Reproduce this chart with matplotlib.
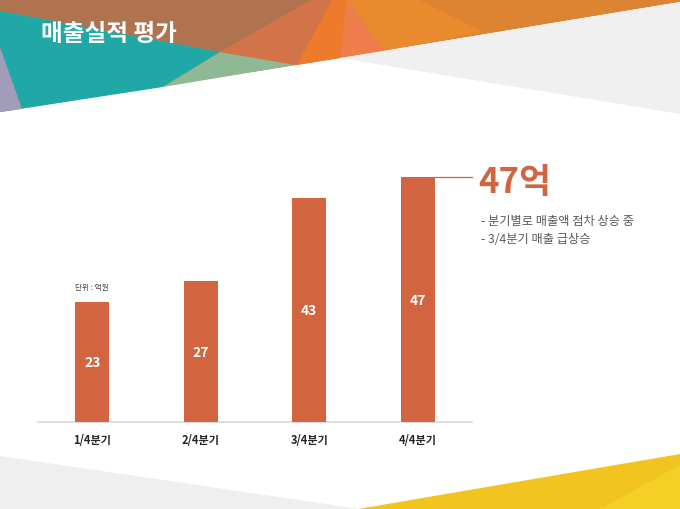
import matplotlib
matplotlib.use("Agg")
import matplotlib.pyplot as plt
from matplotlib.patches import Polygon

plt.rcParams['font.family'] = ['Noto Sans CJK KR', 'DejaVu Sans']

# ---- data ----
categories = ['1/4분기', '2/4분기', '3/4분기', '4/4분기']
values = [23, 27, 43, 47]
unit_label = '단위 : 억원'
title = '매출실적 평가'
notes = ['- 분기별로 매출액 점차 상승 중', '- 3/4분기 매출 급상승']

BAR = '#D2643F'
W, H = 680, 510

fig = plt.figure(figsize=(W / 100, H / 100), dpi=100)

# ---- decorative background (pixel coords, y down) ----
bg = fig.add_axes([0, 0, 1, 1])
bg.set_xlim(0, W)
bg.set_ylim(H, 0)
bg.axis('off')

shapes = [
    ([(0, 0), (680, 0), (680, 3), (340, 59), (0, 113)], '#DD8432'),
    ([(0, 0), (313, 0), (220, 53), (0, 12)], '#B0734F'),
    ([(0, 12), (220, 53), (163, 88), (0, 113)], '#1FA8A5'),
    ([(0, 48), (22, 110), (0, 113)], '#A09CBA'),
    ([(220, 53), (295, 66), (163, 88)], '#8FB895'),
    ([(220, 53), (313, 0), (333, 0), (297, 66)], '#D3734A'),
    ([(333, 0), (347, 0), (340, 59), (297, 66)], '#EE7A2C'),
    ([(347, 0), (385, 52), (340, 59)], '#EE7D4B'),
    ([(347, 0), (417, 0), (483, 33), (385, 52)], '#E88A2D'),
    ([(340, 59), (680, 3), (680, 115)], '#F0F0F0'),
    ([(0, 457), (360, 510), (0, 510)], '#EFEFEF'),
    ([(358, 510), (680, 455), (680, 510)], '#F2C41F'),
    ([(600, 510), (680, 466), (680, 510)], '#F4D026'),
]
for pts, col in shapes:
    bg.add_patch(Polygon(pts, closed=True, facecolor=col, edgecolor='none'))

bg.text(41, 34, title, color='white', fontsize=17, fontweight='bold',
        ha='left', va='center')

# ---- bar chart ----
ax_left, ax_right = 38, 472
ax_base, ax_top = 423, 150
ax = fig.add_axes([ax_left / W, (H - ax_base) / H,
                   (ax_right - ax_left) / W, (ax_base - ax_top) / H])
ax.set_facecolor('none')
x = list(range(len(categories)))
bw = 0.31
ax.bar(x, values, width=bw, color=BAR, zorder=3)
ax.set_xlim(-0.5, len(categories) - 0.5)
ax.set_ylim(0, (ax_base - ax_top) / 5.21)
for s in ['top', 'right', 'left']:
    ax.spines[s].set_visible(False)
ax.spines['bottom'].set_color('#D9D9D9')
ax.spines['bottom'].set_linewidth(1.2)
ax.set_yticks([])
ax.set_xticks(x)
ax.set_xticklabels(categories, fontsize=8, fontweight='bold', color='#262626')
ax.tick_params(axis='x', length=0, pad=8)

for xi, v in zip(x, values):
    ax.text(xi, v / 2, str(v), ha='center', va='center', color='white',
            fontsize=10, fontweight='bold', zorder=4)

ax.text(x[0], values[0] + 2.2, unit_label, ha='center', va='bottom',
        fontsize=5.5, color='#404040')

last = len(values) - 1
ax.plot([x[last] + bw / 2, len(categories) - 0.5], [values[last], values[last]],
        color=BAR, lw=0.9, clip_on=False, zorder=3)
ax.text(len(categories) - 0.5 + 0.055, values[last] - 0.8, f'{values[last]}억',
        ha='left', va='center', fontsize=25, fontweight='bold', color=BAR,
        clip_on=False)

for i, line in enumerate(notes):
    fig.text(481 / W, 1 - (222 + 18 * i) / H, line, ha='left', va='center',
             fontsize=8.8, color='#595959')

fig.savefig('out.png', dpi=100)
